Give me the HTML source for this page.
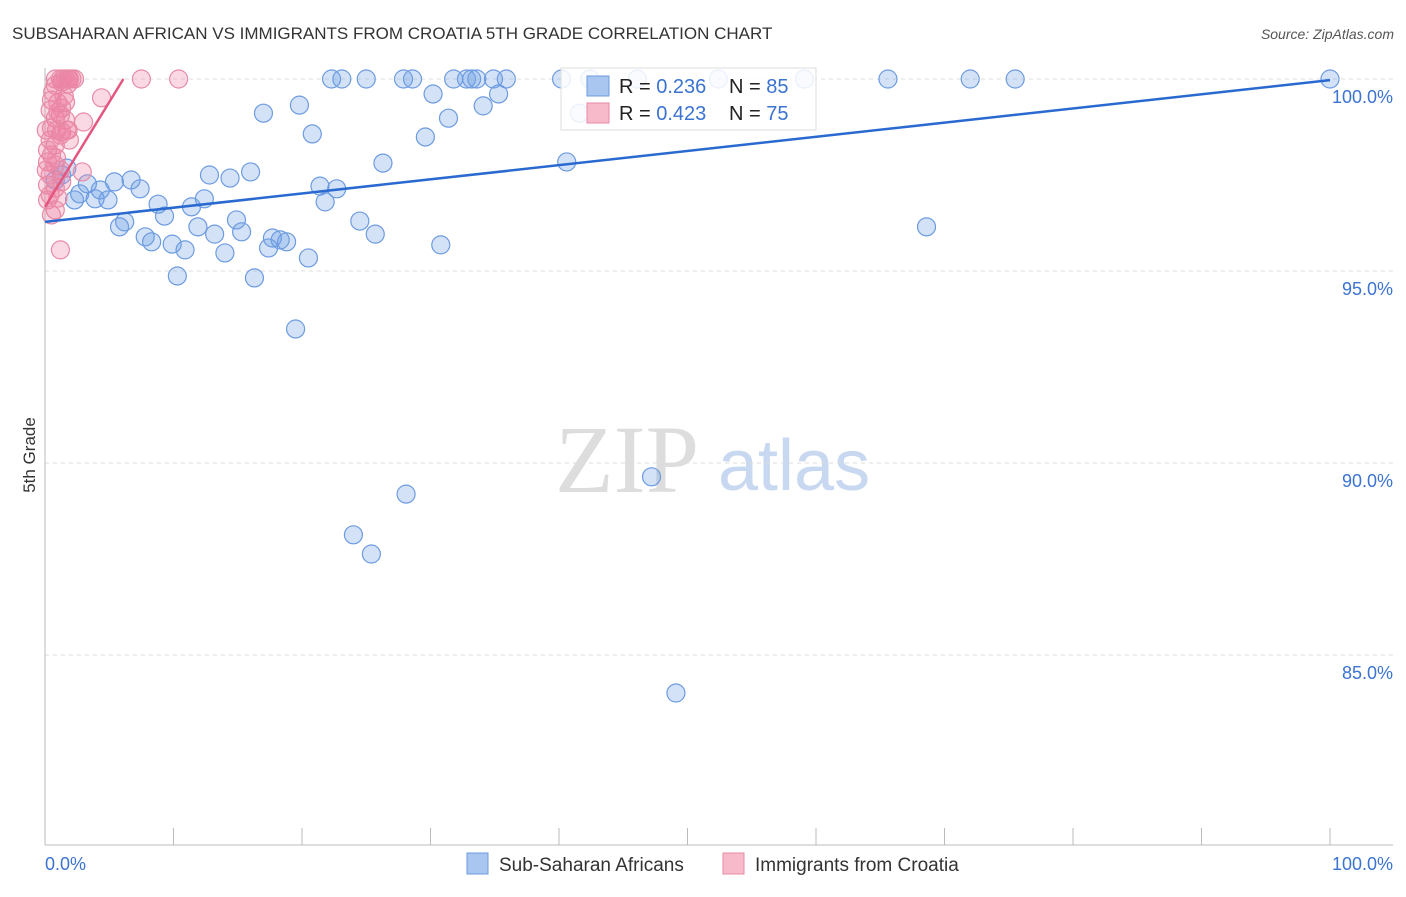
<!DOCTYPE html>
<html><head><meta charset="utf-8"><style>
body{margin:0;background:#fff;font-family:"Liberation Sans",sans-serif;}
</style></head><body>
<svg width="1406" height="892" xmlns="http://www.w3.org/2000/svg" id="chart">
<text x="12" y="39" font-size="17" fill="#333">SUBSAHARAN AFRICAN VS IMMIGRANTS FROM CROATIA 5TH GRADE CORRELATION CHART</text>
<text x="1394" y="39" font-size="14" fill="#555" font-style="italic" text-anchor="end">Source: ZipAtlas.com</text>
<text x="35" y="455" font-size="17" fill="#333" transform="rotate(-90 35 455)" text-anchor="middle">5th Grade</text>
<g>
<text x="555" y="492" font-size="96" font-family="Liberation Serif,serif" fill="#ddd">ZIP</text>
<text x="718" y="490" font-size="72" fill="#c8d8f0">atlas</text>
</g>
<g id="grid"></g><g id="axes"></g><g id="marks"></g>
<g>
<rect x="561" y="68" width="255" height="62" fill="#fff" fill-opacity="0.85" stroke="#ddd"/>
<rect x="587" y="76" width="22" height="20" fill="#a9c6f0" stroke="#6d9be0"/>
<rect x="587" y="103" width="22" height="20" fill="#f7bacb" stroke="#e88aa5"/>
<text x="619" y="93" font-size="20" fill="#222">R = <tspan fill="#3b73d1">0.236</tspan></text>
<text x="729" y="93" font-size="20" fill="#222">N = <tspan fill="#3b73d1">85</tspan></text>
<text x="619" y="120" font-size="20" fill="#222">R = <tspan fill="#3b73d1">0.423</tspan></text>
<text x="729" y="120" font-size="20" fill="#222">N = <tspan fill="#3b73d1">75</tspan></text>
</g>
<g>
<rect x="467" y="853" width="21" height="21" fill="#a9c6f0" stroke="#6d9be0"/>
<text x="499" y="871" font-size="19" fill="#333">Sub-Saharan Africans</text>
<rect x="723" y="853" width="21" height="21" fill="#f7bacb" stroke="#e88aa5"/>
<text x="755" y="871" font-size="19" fill="#333">Immigrants from Croatia</text>
</g>
</svg>
<script>
const blueX=[22.3,23.1,25.0,27.9,28.6,31.8,32.8,33.2,33.6,34.9,35.9,40.2,42.4,46.1,52.4,59.1,65.6,72.0,75.5,100,17.0,19.8,20.8,30.2,31.4,34.1,35.3,29.6,26.3,40.6,41.6,16.0,12.8,14.4,21.4,22.7,21.8,11.4,12.4,9.3,8.8,7.4,6.7,5.4,4.3,2.7,3.9,4.9,2.3,3.3,1.3,1.7,0.8,6.2,5.8,7.8,8.3,9.9,10.9,11.9,13.2,14.9,15.3,14.0,17.4,17.7,18.3,18.8,20.5,24.5,25.7,30.8,10.3,16.3,19.5,68.6,47.2,28.1,24.0,25.4,49.1];
const blueY=[100,100,100,100,100,100,100,100,100,100,100,100,100,100,100,100,100,100,100,100,99.11,99.32,98.57,99.61,98.98,99.30,99.61,98.49,97.81,97.84,99.11,97.58,97.50,97.42,97.21,97.14,96.80,96.67,96.88,96.43,96.74,97.14,97.37,97.32,97.11,97.01,96.88,96.85,96.85,97.27,97.50,97.68,97.37,96.28,96.15,95.89,95.76,95.70,95.55,96.15,95.96,96.33,96.02,95.47,95.60,95.86,95.81,95.76,95.34,96.30,95.96,95.68,94.87,94.82,93.49,96.15,89.64,89.19,88.13,87.63,84.01];
const pinkX=[0.8,1.2,1.4,1.6,1.8,1.9,2.1,2.3,1.3,1.8,7.5,10.4,4.4,0.8,0.5,1.0,1.3,1.6,0.4,0.8,1.2,1.6,3.0,0.5,0.9,1.3,1.8,0.4,0.8,1.2,0.2,0.5,0.9,0.2,0.8,1.2,0.4,2.9,0.2,0.8,1.3,0.4,1.0,0.2,0.8,0.5,1.2,1.9,0.1,0.1,0.6,1.5,1.0,1.7];
const pinkY=[100,100,100,100,100,100,100,100,99.92,99.87,100,100,99.51,99.84,99.45,99.38,99.24,99.40,99.19,98.98,99.06,98.93,98.88,98.72,98.67,98.62,98.67,98.41,98.28,98.54,98.15,98.02,97.94,97.84,97.76,97.63,97.50,97.58,97.24,97.16,97.32,96.98,96.90,96.85,96.59,96.46,95.55,98.41,97.63,98.67,99.66,99.56,99.14,98.67];
const blueTrend=[[0,96.28],[100,99.97]];
const pinkTrend=[[0,96.67],[6.1,100]];
const yTicks=[100,95,90,85];
const xTickVals=[0,10,20,30,40,50,60,70,80,90,100];
const NS="http://www.w3.org/2000/svg";
function sx(v){return 45+v*12.85;}
function sy(v){return 79+(100-v)*38.4;}
function mk(t,a,p){const e=document.createElementNS(NS,t);for(const k in a)e.setAttribute(k,a[k]);document.getElementById(p).appendChild(e);return e;}
yTicks.forEach(v=>{
 const l=mk('line',{x1:45,x2:1393,y1:sy(v),y2:sy(v),stroke:'#ddd','stroke-dasharray':'4,4'},'grid');
 
 
 const t=mk('text',{x:1393,y:sy(v)+24,'font-size':18,fill:'#3b73d1','text-anchor':'end'},'grid');
 t.textContent=v.toFixed(1)+'%';
 
 
});
let ax=mk('line',{x1:45,x2:45,y1:68,y2:845,stroke:'#bbb'},'axes');


ax=mk('line',{x1:45,x2:1393,y1:845,y2:845,stroke:'#bbb'},'axes');


xTickVals.forEach(v=>{
 const l=mk('line',{x1:sx(v),x2:sx(v),y1:828,y2:845,stroke:'#bbb'},'axes');
 
 
});
let t=mk('text',{x:45,y:870,'font-size':18,fill:'#3b73d1'},'axes');t.textContent='0.0%';


t=mk('text',{x:1393,y:870,'font-size':18,fill:'#3b73d1','text-anchor':'end'},'axes');t.textContent='100.0%';


blueX.forEach((x,i)=>{
 const c=mk('circle',{cx:sx(x),cy:sy(blueY[i]),r:9,fill:'rgba(110,160,230,0.3)',stroke:'#6d9be0','stroke-width':1.2},'marks');
 
 
});
pinkX.forEach((x,i)=>{
 const c=mk('circle',{cx:sx(x),cy:sy(pinkY[i]),r:9,fill:'rgba(240,130,165,0.3)',stroke:'#e88aa5','stroke-width':1.2},'marks');
 
 
});
let tl=mk('line',{x1:sx(blueTrend[0][0]),y1:sy(blueTrend[0][1]),x2:sx(blueTrend[1][0]),y2:sy(blueTrend[1][1]),stroke:'#2a6ad0','stroke-width':2.5},'marks');


tl=mk('line',{x1:sx(pinkTrend[0][0]),y1:sy(pinkTrend[0][1]),x2:sx(pinkTrend[1][0]),y2:sy(pinkTrend[1][1]),stroke:'#e4567f','stroke-width':2.5},'marks');


</script>
</body></html>
